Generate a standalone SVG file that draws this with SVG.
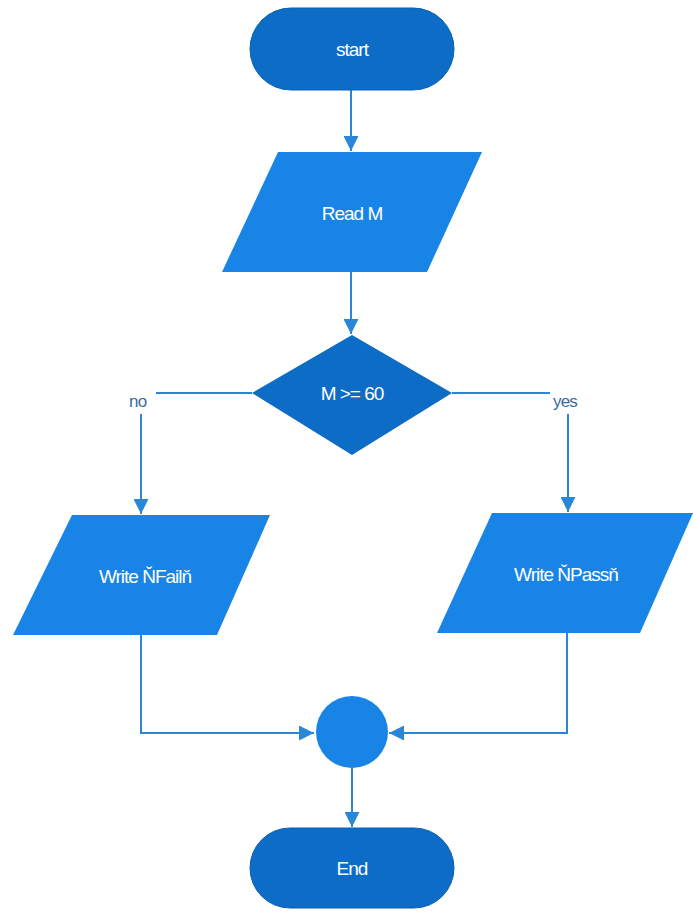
<svg xmlns="http://www.w3.org/2000/svg" width="693" height="914" viewBox="0 0 693 914">
<style>
.term{fill:#0d6cc6;stroke:#0a5fb0;stroke-width:1}
.io{fill:#1884e6}
.dec{fill:#0d6cc6}
.join{fill:#1884e6}
.lbl{font-family:"Liberation Sans",Arial,sans-serif;font-size:19px;fill:#ffffff;text-anchor:middle;letter-spacing:-1px}
.elbl{font-family:"Liberation Sans",Arial,sans-serif;font-size:17px;fill:#3d6a9c;letter-spacing:-0.8px}
.c{fill:none;stroke:#2a87d8;stroke-width:2}
</style>
<defs>
<marker id="ah" viewBox="0 0 10 10" refX="10" refY="5" markerWidth="7.5" markerHeight="7.5" markerUnits="strokeWidth" orient="auto">
<path d="M0,0 L10,5 L0,10 z" fill="#2a87d8"/>
</marker>
</defs>
<g id="connectors">
<path class="c" d="M351,90 L351,151" marker-end="url(#ah)"/>
<path class="c" d="M351,272 L351,334" marker-end="url(#ah)"/>
<path class="c" d="M252,393 L156,393"/>
<path class="c" d="M141,414 L141,514" marker-end="url(#ah)"/>
<path class="c" d="M452,393 L550,393"/>
<path class="c" d="M568,414 L568,512" marker-end="url(#ah)"/>
<path class="c" d="M141,635 L141,733 L314,733" marker-end="url(#ah)"/>
<path class="c" d="M567,633 L567,733 L389,733" marker-end="url(#ah)"/>
<path class="c" d="M352,768 L352,827" marker-end="url(#ah)"/>
<text class="elbl" x="129" y="407">no</text>
<text class="elbl" x="553" y="407">yes</text>
</g>
<g id="start">
<rect class="term" x="250" y="8" width="204" height="82" rx="41" ry="41"/>
<text class="lbl" x="352" y="56">start</text>
</g>
<g id="readM">
<polygon class="io" points="278,152 482,152 427,272 222,272"/>
<text class="lbl" x="352" y="220">Read M</text>
</g>
<g id="decision">
<polygon class="dec" points="352,335 452,393 352,455 252,393"/>
<text class="lbl" x="352" y="400">M &gt;= 60</text>
</g>
<g id="writeFail">
<polygon class="io" points="72,515 270,515 217,635 13,635"/>
<text class="lbl" x="145" y="583">Write ŇFailň</text>
</g>
<g id="writePass">
<polygon class="io" points="492,513 693,513 640,633 437,633"/>
<text class="lbl" x="566" y="581">Write ŇPassň</text>
</g>
<g id="join">
<circle class="join" cx="352" cy="732" r="36"/>
</g>
<g id="end">
<rect class="term" x="250" y="828" width="204" height="80" rx="40" ry="40"/>
<text class="lbl" x="352" y="875">End</text>
</g>
</svg>
